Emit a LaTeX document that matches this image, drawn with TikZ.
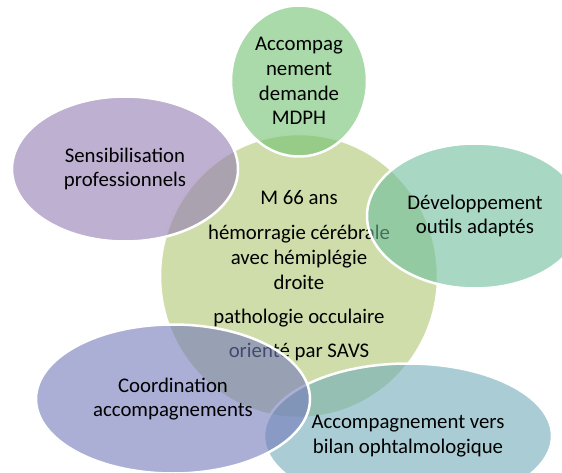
\documentclass[tikz,border=0pt]{standalone}
\usepackage{fontspec}
\setmainfont{Carlito}
\usetikzlibrary{shapes.geometric}
\tikzset{font={\fontsize{20.8pt}{24.8pt}\selectfont}}
\definecolor{centre}{RGB}{175,198,113}
\definecolor{vert}{RGB}{113,192,113}
\definecolor{violet}{RGB}{147,123,177}
\definecolor{turquoise}{RGB}{110,190,157}
\definecolor{bleugris}{RGB}{113,172,185}
\definecolor{lavande}{RGB}{115,122,187}
\tikzstyle{bulle}=[ellipse,draw=white,line width=2.5pt,fill opacity=0.6,text opacity=1,inner sep=0pt,align=center,text=black]

\begin{document}
\begin{tikzpicture}[x=1pt,y=-1pt]
        \useasboundingbox (0,0) rectangle (562,473);
        \clip (0,0) rectangle (562,473);
        % centre
        \node[bulle, fill=centre, minimum width=278pt, minimum height=284pt] (patient) at (299,276)
           {M 66 ans\\[10pt] hémorragie cérébrale\\ avec hémiplégie\\ droite\\[9pt] pathologie occulaire\\[10pt] orienté par SAVS};
        %
        \node[bulle, fill=vert, minimum width=136pt, minimum height=151pt] (mdph) at (299,81)
           {Accompag\\ nement\\ demande\\ MDPH}; % 1
        \node[bulle, fill=turquoise, minimum width=216pt, minimum height=145pt] (outils) at (475,216)
           {Développement\\ outils adaptés}; % 2
        \node[bulle, fill=bleugris, minimum width=288pt, minimum height=145pt] (bilan) at (408,436)
           {Accompagnement vers\\ bilan ophtalmologique}; % 3
        \node[bulle, fill=lavande, minimum width=274pt, minimum height=149pt] (coord) at (173,399)
           {Coordination\\ accompagnements}; % 4
        \node[bulle, fill=violet, minimum width=226pt, minimum height=145pt] (sensib) at (125,169)
           {Sensibilisation\\ professionnels}; % 5
    \end{tikzpicture}
\end{document}
